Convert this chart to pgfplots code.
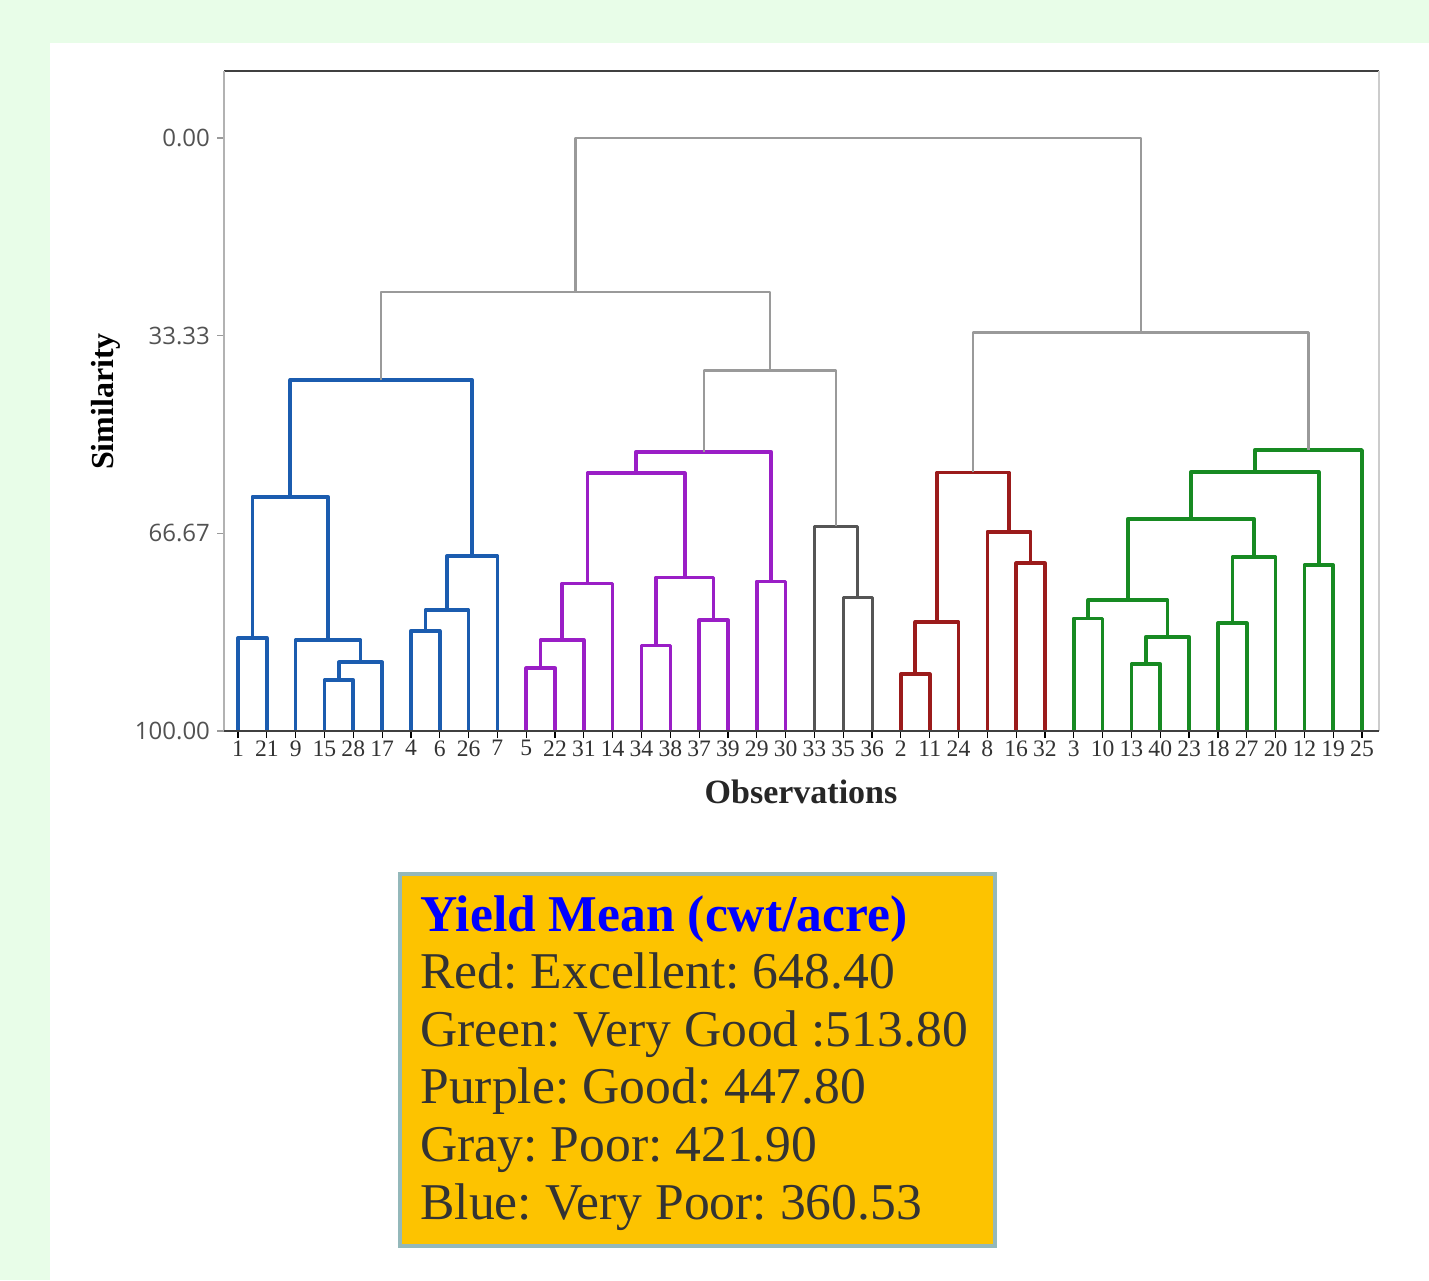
\documentclass[border=0pt]{standalone}
\usepackage{fontspec}
\setmainfont{Liberation Serif}
\newfontfamily\tickfont{Open Sans}
\usepackage{pgfplots}
\pgfplotsset{compat=1.18}
\definecolor{cblue}{HTML}{1B5CAF}
\definecolor{cpurple}{HTML}{9A1EC6}
\definecolor{cred}{HTML}{9B1B1B}
\definecolor{cgreen}{HTML}{178A22}
\definecolor{cdgray}{HTML}{555555}
\definecolor{cgray}{HTML}{9A9A9A}
\definecolor{pagebg}{HTML}{E8FDE8}
\definecolor{boxfill}{HTML}{FDC300}
\definecolor{boxline}{HTML}{94B8BA}
\definecolor{txt}{HTML}{333333}
\frenchspacing
\begin{document}
\begin{tikzpicture}
\fill[pagebg] (0,0) rectangle (714.5pt,-640pt);
\fill[white] (25pt,-21.5pt) rectangle (714.5pt,-640pt);
\begin{axis}[
  at={(112pt,-365.5pt)}, anchor=south west,
  scale only axis, width=577.5pt, height=330pt,
  xmin=-0.486, xmax=39.59, ymin=-11.3, ymax=100, y dir=reverse,
  axis line style={draw=none},
  xtick={0,...,39},
  xticklabels={1,21,9,15,28,17,4,6,26,7,5,22,31,14,34,38,37,39,29,30,33,35,36,2,11,24,8,16,32,3,10,13,40,23,18,27,20,12,19,25},
  ytick={0,33.33,66.67,100}, yticklabels={0.00,33.33,66.67,100.00},
  xtick pos=lower, xticklabel pos=lower, ytick pos=left, tick align=outside,
  major tick length=3.5pt,
  x tick style={black, line width=0.6pt},
  y tick style={cgray, line width=0.6pt},
  xticklabel style={font=\fontsize{11.8}{12}\selectfont, text=txt, inner sep=1pt},
  yticklabel style={font=\tickfont\fontsize{12}{12}\selectfont, text=txt!85},
  clip=false,
  every axis plot/.append style={mark=none, line join=round},
]
% Blue cluster
\addplot[cblue, line width=1.8pt] coordinates {(0,100)(0,84.3)(1,84.3)(1,100)};
\addplot[cblue, line width=1.8pt] coordinates {(3,100)(3,91.4)(4,91.4)(4,100)};
\addplot[cblue, line width=1.8pt] coordinates {(3.5,91.4)(3.5,88.4)(5,88.4)(5,100)};
\addplot[cblue, line width=1.8pt] coordinates {(2,100)(2,84.65)(4.25,84.65)(4.25,88.4)};
\addplot[cblue, line width=1.8pt] coordinates {(0.5,84.3)(0.5,60.5)(3.125,60.5)(3.125,84.65)};
\addplot[cblue, line width=1.8pt] coordinates {(6,100)(6,83.1)(7,83.1)(7,100)};
\addplot[cblue, line width=1.8pt] coordinates {(6.5,83.1)(6.5,79.6)(8,79.6)(8,100)};
\addplot[cblue, line width=1.8pt] coordinates {(7.25,79.6)(7.25,70.5)(9,70.5)(9,100)};
\addplot[cblue, line width=1.8pt] coordinates {(1.8125,60.5)(1.8125,40.8)(8.125,40.8)(8.125,70.5)};
% Purple cluster
\addplot[cpurple, line width=1.8pt] coordinates {(10,100)(10,89.4)(11,89.4)(11,100)};
\addplot[cpurple, line width=1.8pt] coordinates {(10.5,89.4)(10.5,84.65)(12,84.65)(12,100)};
\addplot[cpurple, line width=1.8pt] coordinates {(11.25,84.65)(11.25,75.1)(13,75.1)(13,100)};
\addplot[cpurple, line width=1.8pt] coordinates {(14,100)(14,85.6)(15,85.6)(15,100)};
\addplot[cpurple, line width=1.8pt] coordinates {(16,100)(16,81.3)(17,81.3)(17,100)};
\addplot[cpurple, line width=1.8pt] coordinates {(14.5,85.6)(14.5,74.1)(16.5,74.1)(16.5,81.3)};
\addplot[cpurple, line width=1.8pt] coordinates {(12.125,75.1)(12.125,56.5)(15.5,56.5)(15.5,74.1)};
\addplot[cpurple, line width=1.8pt] coordinates {(18,100)(18,74.8)(19,74.8)(19,100)};
\addplot[cpurple, line width=1.8pt] coordinates {(13.8125,56.5)(13.8125,52.9)(18.5,52.9)(18.5,74.8)};
% Dark gray cluster
\addplot[cdgray, line width=1.5pt] coordinates {(21,100)(21,77.5)(22,77.5)(22,100)};
\addplot[cdgray, line width=1.5pt] coordinates {(20,100)(20,65.5)(21.5,65.5)(21.5,77.5)};
% Red cluster
\addplot[cred, line width=1.8pt] coordinates {(23,100)(23,90.4)(24,90.4)(24,100)};
\addplot[cred, line width=1.8pt] coordinates {(23.5,90.4)(23.5,81.6)(25,81.6)(25,100)};
\addplot[cred, line width=1.8pt] coordinates {(27,100)(27,71.7)(28,71.7)(28,100)};
\addplot[cred, line width=1.8pt] coordinates {(26,100)(26,66.4)(27.5,66.4)(27.5,71.7)};
\addplot[cred, line width=1.8pt] coordinates {(24.25,81.6)(24.25,56.4)(26.75,56.4)(26.75,66.4)};
% Green cluster
\addplot[cgreen, line width=1.8pt] coordinates {(29,100)(29,81.0)(30,81.0)(30,100)};
\addplot[cgreen, line width=1.8pt] coordinates {(31,100)(31,88.7)(32,88.7)(32,100)};
\addplot[cgreen, line width=1.8pt] coordinates {(31.5,88.7)(31.5,84.1)(33,84.1)(33,100)};
\addplot[cgreen, line width=1.8pt] coordinates {(29.5,81.0)(29.5,77.9)(32.25,77.9)(32.25,84.1)};
\addplot[cgreen, line width=1.8pt] coordinates {(34,100)(34,81.8)(35,81.8)(35,100)};
\addplot[cgreen, line width=1.8pt] coordinates {(34.5,81.8)(34.5,70.7)(36,70.7)(36,100)};
\addplot[cgreen, line width=1.8pt] coordinates {(30.875,77.9)(30.875,64.2)(35.25,64.2)(35.25,70.7)};
\addplot[cgreen, line width=1.8pt] coordinates {(37,100)(37,72.0)(38,72.0)(38,100)};
\addplot[cgreen, line width=1.8pt] coordinates {(33.0625,64.2)(33.0625,56.3)(37.5,56.3)(37.5,72.0)};
\addplot[cgreen, line width=1.8pt] coordinates {(35.28,56.3)(35.28,52.6)(39,52.6)(39,100)};
% Gray upper links
\addplot[cgray, line width=1.1pt] coordinates {(16.156,52.9)(16.156,39.2)(20.75,39.2)(20.75,65.5)};
\addplot[cgray, line width=1.1pt] coordinates {(4.97,40.8)(4.97,25.9)(18.45,25.9)(18.45,39.2)};
\addplot[cgray, line width=1.1pt] coordinates {(25.5,56.4)(25.5,32.8)(37.14,32.8)(37.14,52.6)};
\addplot[cgray, line width=1.1pt] coordinates {(11.71,25.9)(11.71,0)(31.32,0)(31.32,32.8)};
\end{axis}
% frame
\draw[black!75, line width=1pt] (112pt,-35.5pt) -- (689.5pt,-35.5pt);
\draw[black!30, line width=0.8pt] (112pt,-35.5pt) -- (112pt,-365.5pt);
\draw[black!20, line width=0.8pt] (689.5pt,-35.5pt) -- (689.5pt,-365.5pt);
\draw[black!75, line width=0.8pt] (112pt,-365.5pt) -- (689.5pt,-365.5pt);
% axis titles
\node[anchor=base, font=\bfseries\fontsize{17}{17}\selectfont, text=black!85] at (400.5pt,-401.5pt) {Observations};
\node[anchor=base, rotate=90, font=\bfseries\fontsize{16}{16}\selectfont, text=black] at (56.5pt,-200.75pt) {Similarity};
% info box
\draw[boxline, line width=2pt, fill=boxfill] (200pt,-437pt) rectangle (497.5pt,-623pt);
\node[anchor=base west, inner sep=0pt, font=\bfseries\fontsize{25.8}{28}\selectfont, text=blue] at (210pt,-465.5pt) {Yield Mean (cwt/acre)};
\node[anchor=base west, inner sep=0pt, font=\fontsize{25.8}{28}\selectfont, text=txt] at (210pt,-494.3pt) {Red: Excellent: 648.40};
\node[anchor=base west, inner sep=0pt, font=\fontsize{25.8}{28}\selectfont, text=txt] at (210pt,-523.1pt) {Green: Very Good :513.80};
\node[anchor=base west, inner sep=0pt, font=\fontsize{25.8}{28}\selectfont, text=txt] at (210pt,-551.9pt) {Purple: Good: 447.80};
\node[anchor=base west, inner sep=0pt, font=\fontsize{25.8}{28}\selectfont, text=txt] at (210pt,-580.7pt) {Gray: Poor: 421.90};
\node[anchor=base west, inner sep=0pt, font=\fontsize{25.8}{28}\selectfont, text=txt] at (210pt,-609.5pt) {Blue: Very Poor: 360.53};
\pgfresetboundingbox
\useasboundingbox (0,0) rectangle (714.5pt,-640pt);
\end{tikzpicture}
\end{document}
